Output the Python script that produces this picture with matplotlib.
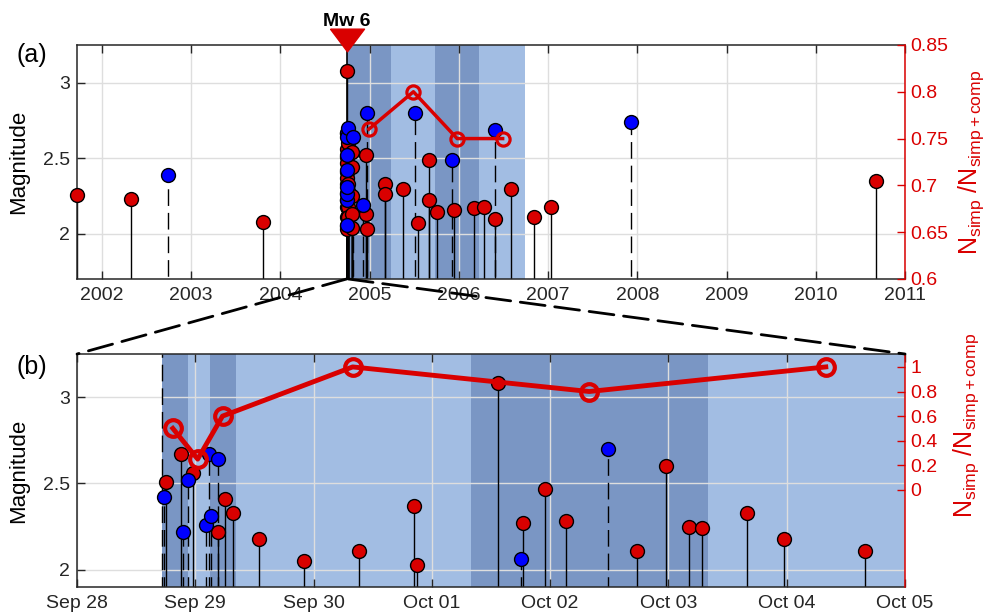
import numpy as np
import matplotlib
matplotlib.use('Agg')
import matplotlib.pyplot as plt
from matplotlib.patches import ConnectionPatch
from matplotlib.path import Path

plt.rcParams['font.family'] = ['Liberation Sans', 'DejaVu Sans']
plt.rcParams['mathtext.fontset'] = 'custom'
plt.rcParams['mathtext.rm'] = 'Liberation Sans'
plt.rcParams['mathtext.it'] = 'Liberation Sans:italic'

RED = '#d90000'
BLUE = '#0000ff'
DARK = '#7a96c4'
LIGHT = '#a2bde3'
AXC = '#262626'

# first week after the mainshock (days since Sep 28 2004, 00:00)
week_day = [0.735, 0.752, 0.879, 0.896, 0.938, 0.983, 1.09, 1.116, 1.13, 1.19, 1.19,
            1.25, 1.32, 1.54, 1.92, 2.38, 2.85, 2.87, 3.56, 3.75, 3.77, 3.96, 4.13,
            4.49, 4.73, 4.98, 5.17, 5.28, 5.66, 5.98, 6.66]
week_mag = [2.42, 2.51, 2.67, 2.22, 2.52, 2.56, 2.26, 2.67, 2.31, 2.64, 2.22,
            2.41, 2.33, 2.18, 2.05, 2.11, 2.37, 2.03, 3.08, 2.06, 2.27, 2.47, 2.28,
            2.70, 2.11, 2.60, 2.25, 2.24, 2.33, 2.18, 2.11]
# 1 = simple (red), 0 = compound (blue)
week_simple = [0, 1, 1, 0, 0, 1, 0, 0, 0, 0, 1,
               1, 1, 1, 1, 1, 1, 1, 1, 0, 1, 1, 1,
               0, 1, 1, 1, 1, 1, 1, 1]

# all the other events (decimal year)
yr_time = [2001.72, 2002.32, 2002.74, 2003.80,
           2004.80, 2004.80, 2004.80, 2004.80, 2004.80, 2004.815,
           2004.93, 2004.96, 2004.96, 2004.97, 2004.97,
           2005.17, 2005.17, 2005.37, 2005.51, 2005.54, 2005.67, 2005.67, 2005.75,
           2005.92, 2005.95, 2006.17, 2006.28, 2006.40, 2006.40, 2006.58, 2006.84,
           2007.03, 2007.93, 2010.67]
yr_mag = [2.255, 2.23, 2.39, 2.08,
          2.54, 2.44, 2.25, 2.13, 2.04, 2.64,
          2.19, 2.52, 2.13, 2.03, 2.80,
          2.33, 2.26, 2.295, 2.80, 2.07, 2.485, 2.22, 2.145,
          2.49, 2.155, 2.17, 2.18, 2.095, 2.685, 2.295, 2.11,
          2.18, 2.74, 2.35]
yr_simple = [1, 1, 0, 1,
             1, 1, 1, 1, 1, 0,
             0, 1, 1, 1, 0,
             1, 1, 1, 0, 1, 1, 1, 1,
             0, 1, 1, 1, 1, 0, 1, 1,
             1, 0, 1]

main_day = 0.715
main_year = 2004.742

# ratio of simple events, per time bin
bins_a = [2004.742, 2005.235, 2005.73, 2006.225, 2006.74]
ratio_a_x = [2004.99, 2005.49, 2005.98, 2006.49]
ratio_a = [0.76, 0.80, 0.75, 0.75]

bins_b = [0.715, 0.94, 1.12, 1.34, 3.33, 5.33, 7.33]
ratio_b_x = [0.81, 1.02, 1.23, 2.33, 4.33, 6.33]
ratio_b = [0.5, 0.25, 0.6, 1.0, 0.8, 1.0]

year_ticks = list(range(2002, 2012))
day_labels = ['Sep 28', 'Sep 29', 'Sep 30', 'Oct 01', 'Oct 02', 'Oct 03', 'Oct 04', 'Oct 05']


def stems(ax, x, m, simple, clip=True):
    x = np.asarray(x)
    m = np.asarray(m)
    s = np.asarray(simple, bool)
    ax.vlines(x[s], 0, m[s], color='k', lw=1, zorder=2)
    ax.vlines(x[~s], 0, m[~s], color='k', lw=1, linestyles=(0, (12, 5)), zorder=2)
    ax.plot(x[s], m[s], 'o', ms=10, mfc=RED, mec='k', mew=1, ls='none', zorder=3, clip_on=clip)
    ax.plot(x[~s], m[~s], 'o', ms=10, mfc=BLUE, mec='k', mew=1, ls='none', zorder=3.5, clip_on=clip)


def style(ax, ax2):
    ax.set_axisbelow(True)
    ax.grid(True, color='#dedede', lw=1)
    for sp in ['left', 'top', 'bottom']:
        ax.spines[sp].set_color(AXC)
        ax.spines[sp].set_linewidth(1.1)
    ax.spines['right'].set_visible(False)
    ax.tick_params(direction='in', length=6, width=1, colors=AXC, labelsize=14,
                   top=True, right=False, pad=5)
    ax.tick_params(axis='x', pad=6)
    ax.set_ylabel('Magnitude', fontsize=16, color='k')
    ax.yaxis.set_label_coords(-0.058, 0.5)
    for sp in ['left', 'top', 'bottom']:
        ax2.spines[sp].set_visible(False)
    ax2.spines['right'].set_color(RED)
    ax2.spines['right'].set_linewidth(1.1)
    ax2.tick_params(direction='in', length=6, width=1, colors=RED, labelsize=14, pad=4)
    ax2.set_ylabel(r'N$_{\mathrm{simp}}$ /N$_{\mathrm{simp+comp}}$', fontsize=18, color=RED)


fig = plt.figure(figsize=(9.9, 6.16), dpi=100)
ax_a = fig.add_axes([0.0778, 0.5471, 0.8364, 0.3799])
ax_b = fig.add_axes([0.0778, 0.0471, 0.8364, 0.3782])

# ---- panel (a)
ax_a.set_xlim(2001.72, 2011.0)
ax_a.set_ylim(1.7, 3.25)
for i in range(len(bins_a) - 1):
    ax_a.axvspan(bins_a[i], bins_a[i + 1], color=DARK if i % 2 == 0 else LIGHT, lw=0, zorder=0.2)

week_year = 2004 + (271 + np.asarray(week_day)) / 366.0
stems(ax_a, np.concatenate([yr_time[:4], week_year, yr_time[4:]]),
      np.concatenate([yr_mag[:4], week_mag, yr_mag[4:]]),
      np.concatenate([yr_simple[:4], week_simple, yr_simple[4:]]), clip=False)
ax_a.vlines(main_year, 0, 3.25, color='k', lw=1.2, zorder=2)

tri = Path([(-1.5, 1), (1.5, 1), (0, -1), (-1.5, 1)])
ax_a.plot([main_year], [3.283], marker=tri, ms=24.5, mfc=RED, mec=RED, ls='none',
          clip_on=False, zorder=5)
ax_a.text(main_year, 3.35, 'Mw 6', fontsize=14, fontweight='bold', ha='center', va='bottom')

ax_a.set_xticks(year_ticks)
ax_a.set_xticklabels([str(y) for y in year_ticks])
ax_a.set_yticks([2, 2.5, 3])
ax_a.set_yticklabels(['2', '2.5', '3'])

ax2a = ax_a.twinx()
ax2a.plot(ratio_a_x, ratio_a, '-o', color=RED, lw=2.5, ms=9.5, mfc='none', mew=2.3, zorder=6)
ax2a.set_ylim(0.6, 0.85)
ticks_a = [0.6, 0.65, 0.7, 0.75, 0.8, 0.85]
ax2a.set_yticks(ticks_a)
ax2a.set_yticklabels(['%g' % t for t in ticks_a])
style(ax_a, ax2a)
ax2a.yaxis.set_label_coords(1.062, 0.5)

# ---- panel (b)
ax_b.set_xlim(0, 7)
ax_b.set_ylim(1.9, 3.25)
for i in range(len(bins_b) - 1):
    ax_b.axvspan(bins_b[i], bins_b[i + 1], color=DARK if i % 2 == 0 else LIGHT, lw=0, zorder=0.2)
stems(ax_b, week_day, week_mag, week_simple)
ax_b.vlines(main_day, 0, 3.25, color='k', lw=1, linestyles=(0, (12, 5)), zorder=2)
ax_b.set_xticks(range(len(day_labels)))
ax_b.set_xticklabels(day_labels)
ax_b.set_yticks([2, 2.5, 3])
ax_b.set_yticklabels(['2', '2.5', '3'])

ax2b = ax_b.twinx()
ax2b.plot(ratio_b_x, ratio_b, '-o', color=RED, lw=3.5, ms=12, mfc='none', mew=3, zorder=6)
ax2b.set_ylim(-0.79, 1.105)
ticks_b = [0, 0.2, 0.4, 0.6, 0.8, 1]
ax2b.set_yticks(ticks_b)
ax2b.set_yticklabels(['%g' % t for t in ticks_b])
style(ax_b, ax2b)
ax2b.yaxis.set_label_coords(1.056, 0.695)

fig.text(0.017, 0.91, '(a)', fontsize=18, va='center')
fig.text(0.017, 0.405, '(b)', fontsize=18, va='center')

# zoom lines from the first week in (a) to the frame of (b)
week_end = 2004 + (271 + 7) / 366.0
for xa, xb in [(main_year, 0), (week_end, 1)]:
    con = ConnectionPatch(xyA=(xa, 1.7), coordsA=ax_a.transData,
                          xyB=(xb, 1), coordsB=ax_b.transAxes,
                          color='k', lw=2, linestyle=(0, (9, 3.5)), zorder=10)
    fig.add_artist(con)

fig.savefig('out.png', dpi=100)
